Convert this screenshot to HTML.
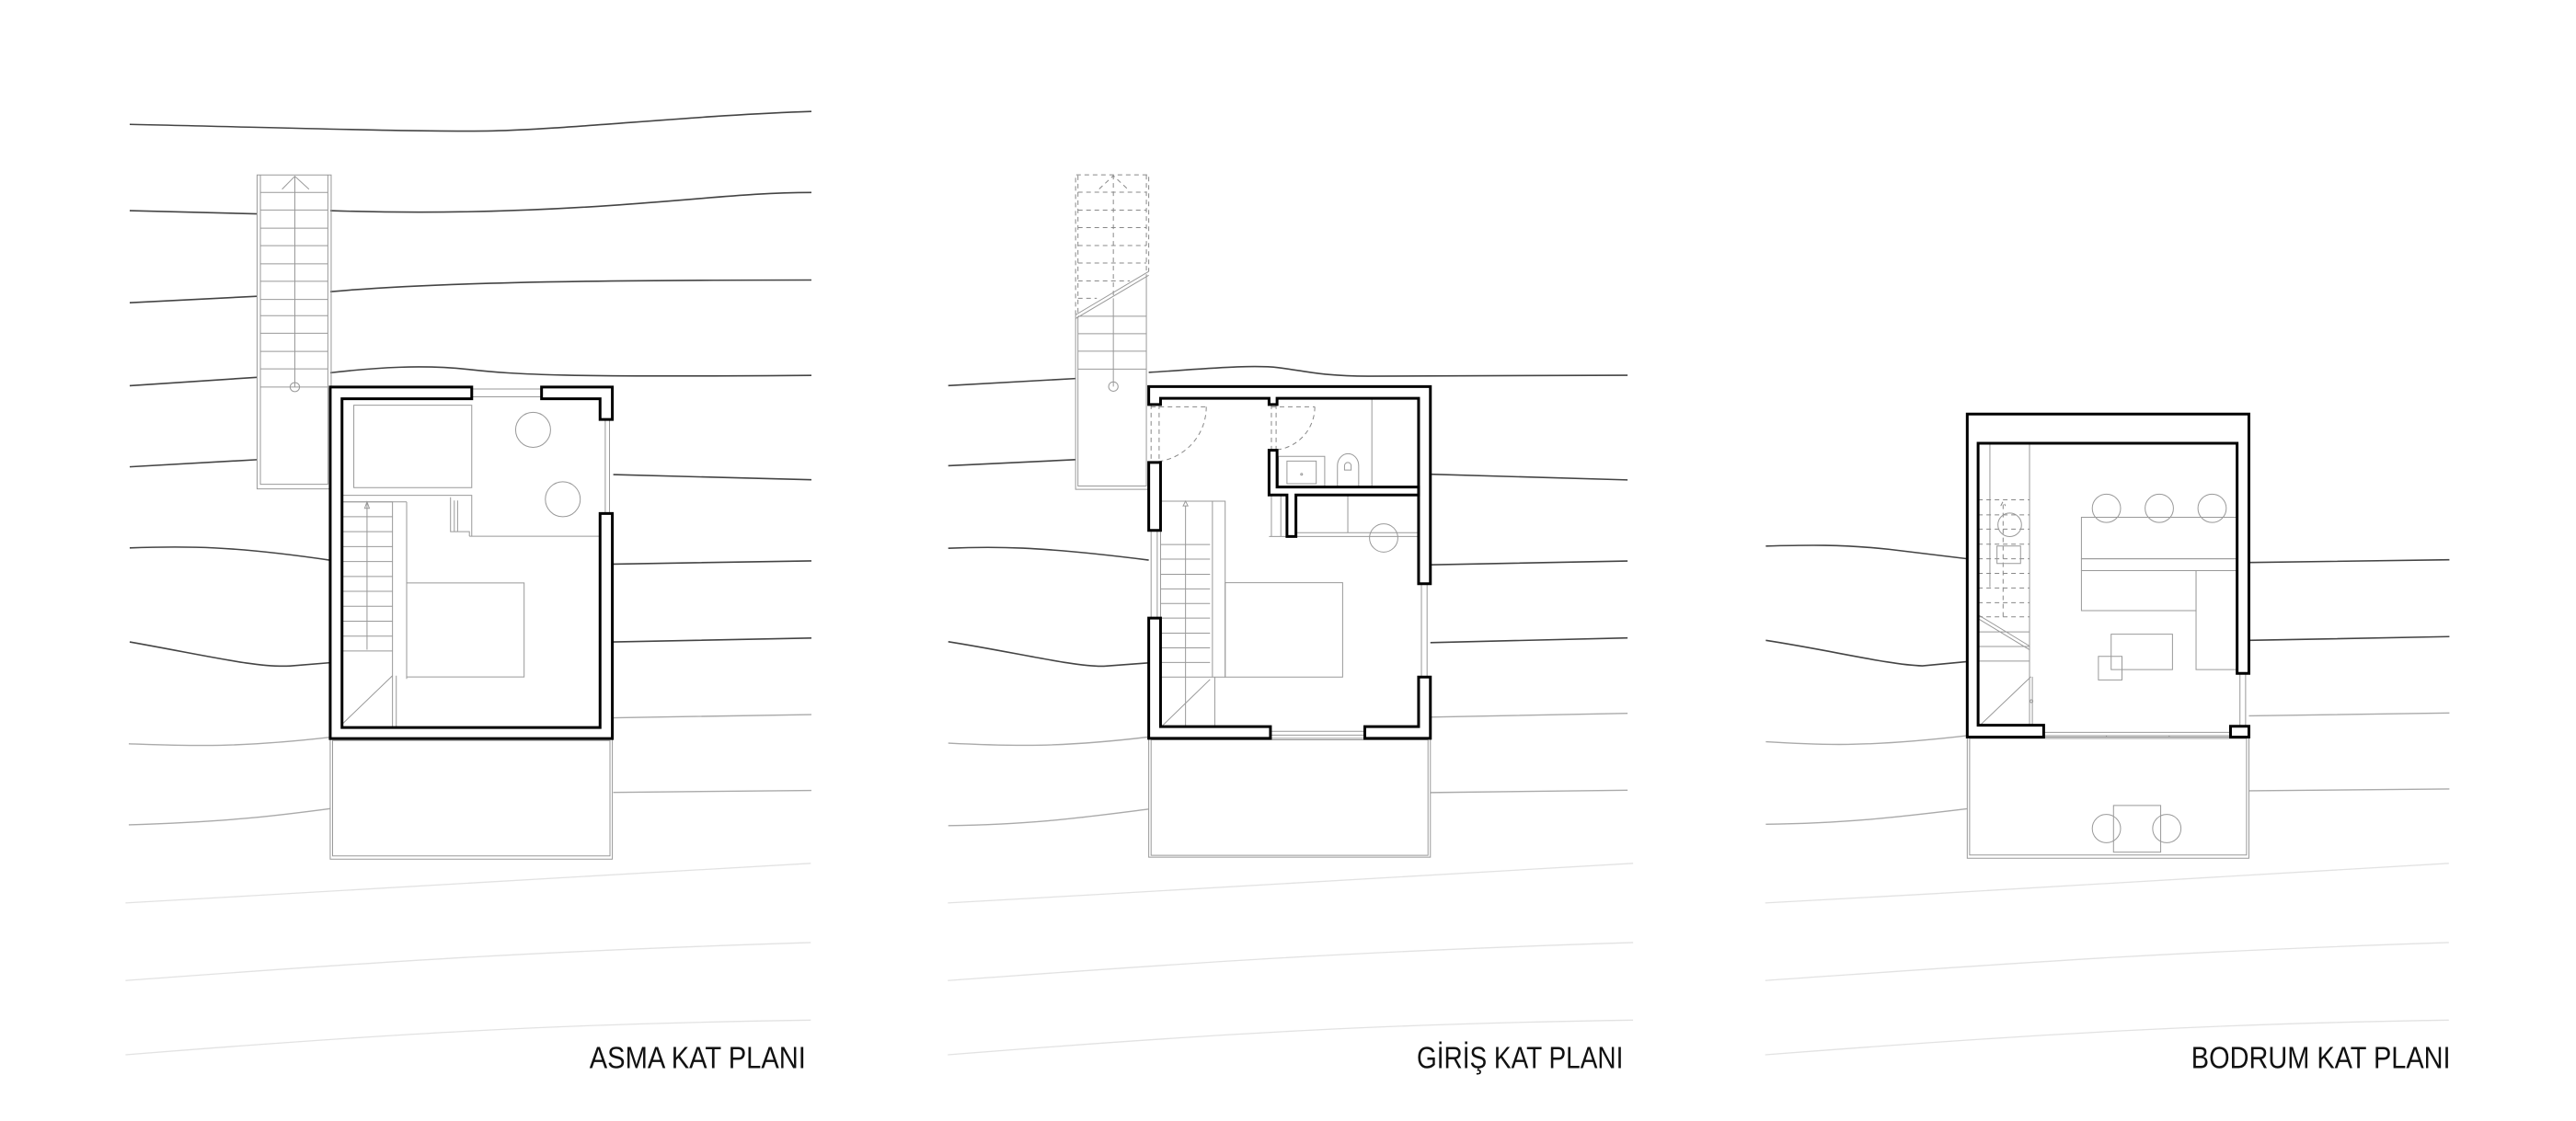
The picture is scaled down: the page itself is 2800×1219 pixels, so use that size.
<!DOCTYPE html>
<html><head><meta charset="utf-8"><style>
html,body{margin:0;padding:0;background:#fff;}
svg{display:block;}
.w{fill:#fff;stroke:#000;stroke-width:3;vector-effect:non-scaling-stroke;stroke-linejoin:miter}
.c{fill:none;stroke:#444;stroke-width:1.6;vector-effect:non-scaling-stroke}
.l{fill:none;stroke:#aaa;stroke-width:1.4;vector-effect:non-scaling-stroke}
.f{fill:none;stroke:#e2e2e2;stroke-width:1.3;vector-effect:non-scaling-stroke}
.g{fill:none;stroke:#999;stroke-width:1;vector-effect:non-scaling-stroke}
.d{fill:none;stroke:#888;stroke-width:1;stroke-dasharray:5 4;vector-effect:non-scaling-stroke}
.t{font-family:"Liberation Sans","DejaVu Sans",sans-serif;font-size:18.5px;fill:#111}
</style></head><body>
<svg width="2800" height="1219" viewBox="0 0 1560 679.1" preserveAspectRatio="none" xmlns="http://www.w3.org/2000/svg">
<rect width="1560" height="680" fill="#fff"/>

<g>
<path class="f" d="M76,547 C200,540 300,534 491,523"/>
<path class="f" d="M76,594 C200,585 300,577 491,571"/>
<path class="f" d="M76,639 C250,625 350,620 491,618"/>
<path class="f" d="M574,547 C700,540 800,534 989,523"/>
<path class="f" d="M574,594 C700,585 800,577 989,571"/>
<path class="f" d="M574,639 C750,625 850,620 989,618"/>
<path class="f" d="M1069,547 C1200,540 1300,534 1483,523"/>
<path class="f" d="M1069,594 C1200,585 1300,577 1483,571"/>
<path class="f" d="M1069,639 C1250,625 1350,620 1483,618"/>
</g>

<!-- PLAN 1 -->
<g transform="matrix(0.2857 0 0 0.3929 55.7 55.7)">
<path class="c" d="M80,50 C400,55 700,62 850,60 S1300,35 1525,30"/>
<path class="c" d="M80,183 L350,188 M505,183 C700,188 900,185 1100,175 S1400,155 1525,155"/>
<path class="c" d="M80,325 L350,315 M505,308 C700,295 1000,290 1525,290"/>
<path class="c" d="M80,453 L350,440 M505,433 C600,425 700,420 800,428 S1000,440 1525,437"/>
<path class="c" d="M80,578 L350,567 M1105,590 L1525,598"/>
<path class="c" d="M80,703 C200,700 300,700 505,722 M1105,728 L1525,723"/>
<path class="c" d="M80,848 C250,870 350,888 420,885 L505,880 M1105,848 L1525,842"/>
<path class="l" d="M78,1005 C200,1008 300,1012 505,995 M1105,965 L1525,960"/>
<path class="l" d="M78,1130 C300,1125 400,1115 505,1105 M1105,1080 L1525,1077"/>
<rect class="g" x="350" y="128" width="157" height="484"/>
<path class="g" d="M357,128 V605 H500 V128"/>
<path class="g" d="M357,155H500M357,182H500M357,210H500M357,237H500M357,265H500M357,292H500M357,320H500M357,345H500M357,372H500M357,400H500M357,427H500M357,455H500"/>
<path class="g" d="M430,130 V455 M403,150 L430,130 L460,150"/>
<ellipse class="g" cx="430" cy="455" rx="10" ry="7"/>
<path class="g" d="M805,458H953M805,470H953M1088,505V650M1097,505V650"/>
<rect class="g" x="555" y="483" width="250" height="127"/>
<ellipse class="g" cx="935" cy="521" rx="37" ry="27"/>
<ellipse class="g" cx="998" cy="628" rx="37" ry="27"/>
<path class="g" d="M530,622H805V632 M530,632H667 M800,685H1077 M760,625V678H800V685 M768,630V678 M775,630V678 M805,632V685"/>
<rect class="g" x="530" y="632" width="107" height="348"/>
<path class="g" d="M530,655H637M530,678H637M530,701H637M530,724H637M530,747H637M530,770H637M530,793H637M530,816H637M530,839H637M530,862H637"/>
<path class="g" d="M667,632V905 M645,900V980 M530,975L637,900 M583,632V860 M578,642L583,632L588,642Z"/>
<rect class="g" x="667" y="757" width="249" height="145"/>
<rect class="g" x="505" y="997" width="598" height="186"/>
<rect class="g" x="510" y="1000" width="588" height="178"/>
<path class="w" d="M505,455H805V473H530V980H1077V650H1103V997H505Z"/>
<path class="w" d="M953,455H1103V505H1077V473H953Z"/>
</g>
<text class="t" x="357" y="647" textLength="131" lengthAdjust="spacingAndGlyphs">ASMA KAT PLANI</text>

<!-- PLAN 2 -->
<g transform="matrix(0.2857 0 0 0.2857 557.1 83.6)">
<path class="c" d="M60,525 L330,510 M485,497 C600,490 700,480 760,487 S850,505 950,505 L1500,503"/>
<path class="c" d="M60,695 L330,682 M1082,713 L1500,725"/>
<path class="c" d="M60,870 C150,866 250,865 485,895 M1082,905 L1500,897"/>
<path class="c" d="M60,1068 C200,1090 330,1122 390,1120 L485,1113 M1082,1070 L1500,1060"/>
<path class="l" d="M60,1283 C200,1290 300,1292 485,1270 M1082,1228 L1500,1220"/>
<path class="l" d="M60,1458 C250,1455 350,1440 485,1423 M1082,1388 L1500,1383"/>
<path class="d" d="M330,375 V78 H485 V283 M335,370 V78 M480,78 V290 M335,115H480M335,153H480M335,190H480M335,228H480M335,265H480M335,303H445M335,340H375 M410,78V340 M380,108L410,80L440,108"/>
<path class="g" d="M330,375 L485,283 M330,383 L485,291 M330,375 V745 H485 M335,378 V738 H480 V290 M335,378H480M335,415H480M335,452H480M335,490H480M410,340V527"/>
<circle class="g" cx="410" cy="527" r="10"/>
<path class="d" d="M490,565V688 M507,565V688 M490,570H607 M607,570 A117,117 0 0 1 490,687 M745,565V660 M755,565V660 M745,570H837 M837,570 A92,92 0 0 1 745,662"/>
<rect class="g" x="760" y="675" width="98" height="63"/>
<rect class="g" x="778" y="685" width="62" height="48"/>
<circle class="g" cx="809" cy="713" r="2"/>
<path class="g" d="M885,738V695 A22,25 0 0 1 930,695 V738"/>
<path class="g" d="M900,695 A7,7 0 0 1 914,695 V704 H900Z M958,552V740"/>
<path class="g" d="M740,845H1057 M797,837H1057 M907,757V837 M745,757V845 M765,757V845"/>
<circle class="g" cx="983" cy="848" r="30"/>
<rect class="g" x="510" y="770" width="137" height="373"/>
<path class="g" d="M510,770H620V1143 M510,862H615M510,893H615M510,925H615M510,956H615M510,987H615M510,1018H615M510,1050H615M510,1081H615M510,1112H615 M563,780V1248 M558,780L563,770L568,780Z M625,1143V1248 M512,1248L615,1148"/>
<rect class="g" x="647" y="943" width="249" height="200"/>
<path class="g" d="M1063,945V1143 M1075,945V1143 M743,1258H943 M743,1266H943 M490,832V1018 M503,832V1018"/>
<rect class="g" x="485" y="1273" width="597" height="252"/>
<rect class="g" x="490" y="1276" width="587" height="245"/>
<path class="w" d="M485,527H1082V945H1057V552H757V565H740V552H510V565H485Z"/>
<path class="w" d="M740,662H757V740H1057V757H797V845H778V757H740Z"/>
<path class="w" d="M485,688H510V832H485Z"/>
<path class="w" d="M485,1018H510V1248H743V1273H485Z"/>
<path class="w" d="M943,1248H1057V1143H1082V1273H943Z"/>
</g>
<text class="t" x="858" y="647" textLength="125" lengthAdjust="spacingAndGlyphs">GİRİŞ KAT PLANI</text>

<!-- PLAN 3 -->
<g transform="matrix(0.2857 0 0 0.2857 1058.5 222.8)">
<path class="c" d="M38,378 C120,376 200,374 300,385 L465,405 M1062,413 L1487,407"/>
<path class="c" d="M38,578 C180,600 300,630 370,632 L465,623 M1062,578 L1487,570"/>
<path class="l" d="M38,793 C150,800 250,805 465,780 M1062,738 L1487,732"/>
<path class="l" d="M38,968 C200,966 300,955 465,935 M1062,897 L1487,893"/>
<path class="g" d="M513,160V465 M597,160V760 M490,525L597,590 M490,533L597,598 M488,560H597M488,591H597M488,622H597 M490,760L600,655 M603,655V760"/>
<path class="d" d="M488,280H597M488,312H597M488,342H597M488,374H597M488,405H597M488,436H597M488,467H597M488,498H597M488,528H597 M541,290V530 M536,293L541,283L546,293"/>
<circle class="g" cx="601" cy="707" r="3"/>
<circle class="g" cx="555" cy="333" r="25"/>
<rect class="g" x="528" y="378" width="50" height="37"/>
<circle class="g" cx="760" cy="298" r="30"/>
<circle class="g" cx="872" cy="298" r="30"/>
<circle class="g" cx="984" cy="298" r="30"/>
<rect class="g" x="707" y="317" width="330" height="88"/>
<rect class="g" x="707" y="405" width="330" height="25"/>
<rect class="g" x="707" y="430" width="243" height="85"/>
<rect class="g" x="950" y="430" width="87" height="210"/>
<rect class="g" x="770" y="565" width="130" height="75"/>
<rect class="g" x="743" y="612" width="50" height="50"/>
<path class="g" d="M627,773H1023 M627,780H1023 M760,780V783H893V780 M1043,648V760 M1055,648V760"/>
<rect class="g" x="465" y="783" width="597" height="257"/>
<rect class="g" x="470" y="786" width="587" height="247"/>
<rect class="g" x="775" y="928" width="100" height="99"/>
<circle class="g" cx="760" cy="977" r="30"/>
<circle class="g" cx="888" cy="977" r="30"/>
<path class="w" d="M465,98H1062V648H1037V160H488V758H627V783H465Z"/>
<rect class="w" x="1023" y="760" width="39" height="23"/>
</g>
<text class="t" x="1327" y="647" textLength="157" lengthAdjust="spacingAndGlyphs">BODRUM KAT PLANI</text>
</svg>
</body></html>
